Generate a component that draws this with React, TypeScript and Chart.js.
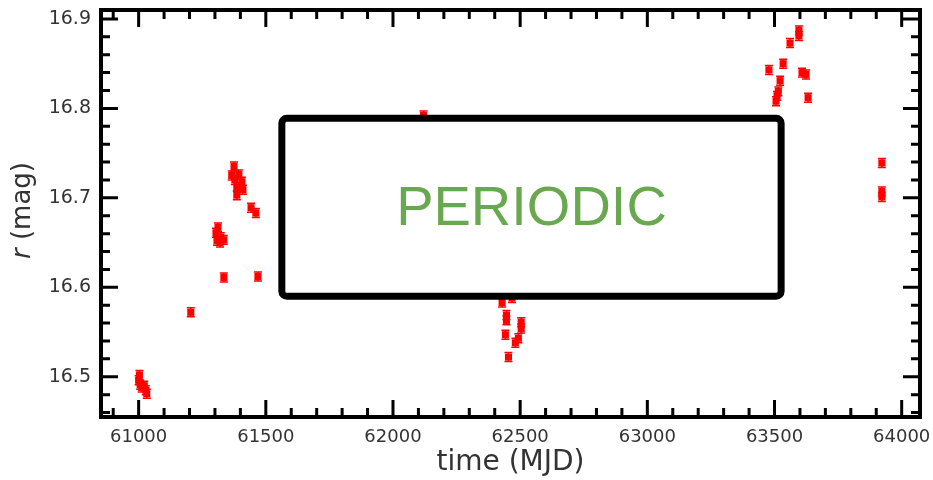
import React, { useEffect, useRef } from "react";
import { Chart, registerables } from "chart.js";

Chart.register(...registerables);

// Observation times (MJD)
const times = [
  61003, 61000, 61006, 61012, 61022, 61028, 61032,
  61205,
  61312, 61304, 61323, 61308, 61335, 61320,
  61335,
  61375, 61366, 61394, 61378, 61406, 61386, 61410, 61386,
  61442, 61461,
  61469,
  62120,
  62429, 62468, 62446, 62446, 62442, 62504, 62504, 62493, 62481, 62454,
  63596, 63596, 63561, 63534, 63478, 63608, 63624, 63522, 63515, 63510, 63506, 63632,
  63922, 63922, 63922,
];
// r-band magnitudes
const mags = [
  16.502, 16.496, 16.491, 16.488, 16.49, 16.485, 16.481,
  16.572,
  16.667, 16.661, 16.656, 16.652, 16.653, 16.65,
  16.611,
  16.735, 16.725, 16.726, 16.72, 16.718, 16.712, 16.709, 16.703,
  16.689, 16.683,
  16.612,
  16.792,
  16.583, 16.588, 16.569, 16.563, 16.547, 16.561, 16.554, 16.543, 16.538, 16.522,
  16.887, 16.881, 16.873, 16.85, 16.843, 16.84, 16.838, 16.831, 16.819, 16.814, 16.808, 16.812,
  16.739, 16.707, 16.701,
];
// magnitude errors
const magErr = [
  0.005, 0.005, 0.005, 0.005, 0.005, 0.005, 0.005,
  0.005,
  0.005, 0.005, 0.005, 0.005, 0.005, 0.005,
  0.005,
  0.005, 0.005, 0.005, 0.005, 0.005, 0.005, 0.005, 0.005,
  0.005, 0.005,
  0.005,
  0.005,
  0.005, 0.005, 0.005, 0.005, 0.005, 0.005, 0.005, 0.005, 0.005, 0.005,
  0.005, 0.005, 0.005, 0.005, 0.005, 0.005, 0.005, 0.005, 0.005, 0.005, 0.005, 0.005,
  0.005, 0.005, 0.005,
];

const xTickValues = [61000, 61500, 62000, 62500, 63000, 63500, 64000];
const yTickValues = [16.5, 16.6, 16.7, 16.8, 16.9];
const xRange = [60852, 64072];
const yRange = [16.455, 16.91];
const xMinorStep = 100;
const yMinorStep = 0.02;

// Overlay label box (data coordinates)
const boxLabel = "PERIODIC";
const boxX = [61563, 63526];
const boxY = [16.789, 16.59];

const FONT = "'DejaVu Sans', Verdana, sans-serif";
const TEXT_COLOR = "#333333";

function roundRectPath(ctx: CanvasRenderingContext2D, x: number, y: number, w: number, h: number, r: number) {
  ctx.beginPath();
  ctx.moveTo(x + r, y);
  ctx.lineTo(x + w - r, y);
  ctx.arcTo(x + w, y, x + w, y + r, r);
  ctx.lineTo(x + w, y + h - r);
  ctx.arcTo(x + w, y + h, x + w - r, y + h, r);
  ctx.lineTo(x + r, y + h);
  ctx.arcTo(x, y + h, x, y + h - r, r);
  ctx.lineTo(x, y + r);
  ctx.arcTo(x, y, x + r, y, r);
  ctx.closePath();
}

const decorPlugin = {
  id: "decor",
  beforeDatasetsDraw(chart: any) {
    const ctx = chart.ctx as CanvasRenderingContext2D;
    const xs = chart.scales.x;
    const ys = chart.scales.y;
    const area = chart.chartArea;
    ctx.save();
    ctx.beginPath();
    ctx.rect(area.left, area.top, area.right - area.left, area.bottom - area.top);
    ctx.clip();
    ctx.strokeStyle = "#ff0000";
    ctx.lineWidth = 1.5;
    times.forEach((t, i) => {
      const px = xs.getPixelForValue(t);
      const y1 = ys.getPixelForValue(mags[i] + magErr[i]);
      const y2 = ys.getPixelForValue(mags[i] - magErr[i]);
      ctx.beginPath();
      ctx.moveTo(px, y1);
      ctx.lineTo(px, y2);
      ctx.moveTo(px - 4, y1);
      ctx.lineTo(px + 4, y1);
      ctx.moveTo(px - 4, y2);
      ctx.lineTo(px + 4, y2);
      ctx.stroke();
    });
    ctx.restore();
  },
  afterDraw(chart: any) {
    const ctx = chart.ctx as CanvasRenderingContext2D;
    const xs = chart.scales.x;
    const ys = chart.scales.y;
    const { left, right, top, bottom } = chart.chartArea;
    ctx.save();

    // inward ticks on all sides
    ctx.strokeStyle = "#000";
    ctx.lineWidth = 3;
    const major = 17;
    const minor = 9;
    const xStart = Math.ceil(xRange[0] / xMinorStep) * xMinorStep;
    for (let v = xStart; v <= xRange[1]; v += xMinorStep) {
      const isMajor = xTickValues.includes(v);
      const len = isMajor ? major : minor;
      const px = xs.getPixelForValue(v);
      ctx.beginPath();
      ctx.moveTo(px, bottom);
      ctx.lineTo(px, bottom - len);
      ctx.moveTo(px, top);
      ctx.lineTo(px, top + len);
      ctx.stroke();
    }
    const yStartIdx = Math.ceil(yRange[0] / yMinorStep - 1e-6);
    for (let k = yStartIdx; k * yMinorStep <= yRange[1] + 1e-9; k++) {
      const v = k * yMinorStep;
      const isMajor = yTickValues.some((t) => Math.abs(t - v) < 1e-6);
      const len = isMajor ? major : minor;
      const py = ys.getPixelForValue(v);
      ctx.beginPath();
      ctx.moveTo(left, py);
      ctx.lineTo(left + len, py);
      ctx.moveTo(right, py);
      ctx.lineTo(right - len, py);
      ctx.stroke();
    }

    // frame
    ctx.lineWidth = 4;
    ctx.strokeRect(left, top, right - left, bottom - top);

    // overlay box
    const bx1 = xs.getPixelForValue(boxX[0]);
    const bx2 = xs.getPixelForValue(boxX[1]);
    const by1 = ys.getPixelForValue(boxY[0]);
    const by2 = ys.getPixelForValue(boxY[1]);
    roundRectPath(ctx, bx1, by1, bx2 - bx1, by2 - by1, 5);
    ctx.fillStyle = "#ffffff";
    ctx.fill();
    ctx.lineWidth = 7;
    ctx.strokeStyle = "#000";
    ctx.stroke();
    ctx.fillStyle = "#6aa84f";
    ctx.font = "56px 'Liberation Sans', Arial, sans-serif";
    ctx.textAlign = "center";
    ctx.textBaseline = "middle";
    ctx.fillText(boxLabel, (bx1 + bx2) / 2, (by1 + by2) / 2 + 2);

    // y-axis title with italic r
    ctx.translate(23, (top + bottom) / 2 - 3);
    ctx.rotate(-Math.PI / 2);
    ctx.fillStyle = TEXT_COLOR;
    ctx.textBaseline = "middle";
    ctx.textAlign = "left";
    const italicFont = `italic 26px ${FONT}`;
    const normalFont = `26px ${FONT}`;
    ctx.font = italicFont;
    const w1 = ctx.measureText("r").width;
    ctx.font = normalFont;
    const w2 = ctx.measureText(" (mag)").width;
    const start = -(w1 + w2) / 2;
    ctx.font = italicFont;
    ctx.fillText("r", start, 0);
    ctx.font = normalFont;
    ctx.fillText(" (mag)", start + w1, 0);

    ctx.restore();
  },
};

export default function App() {
  const canvasRef = useRef<HTMLCanvasElement | null>(null);

  useEffect(() => {
    document.body.style.margin = "0";
    const canvas = canvasRef.current;
    if (!canvas) return;
    const chart = new Chart(canvas, {
      type: "scatter",
      data: {
        datasets: [
          {
            label: "r",
            data: times.map((t, i) => ({ x: t, y: mags[i] })),
            backgroundColor: "#ff0000",
            borderWidth: 0,
            pointStyle: "rect",
            pointRadius: 5,
          },
        ],
      },
      options: {
        responsive: false,
        animation: false,
        devicePixelRatio: 1,
        layout: { padding: { top: 10, right: 13, left: 0, bottom: 0 } },
        plugins: {
          legend: { display: false },
          tooltip: { enabled: false },
        },
        scales: {
          x: {
            type: "linear",
            min: xRange[0],
            max: xRange[1],
            grid: { display: false, drawTicks: false },
            border: { display: false },
            afterBuildTicks: (scale: any) => {
              scale.ticks = xTickValues.map((v) => ({ value: v }));
            },
            afterFit: (scale: any) => {
              scale.height = 63;
              scale.paddingLeft = 0;
              scale.paddingRight = 0;
              scale.paddingTop = 0;
              scale.paddingBottom = 0;
            },
            ticks: {
              padding: 10,
              color: TEXT_COLOR,
              font: { family: FONT, size: 18 },
              maxRotation: 0,
              callback: (v: any) => String(v),
            },
            title: {
              display: true,
              text: "time (MJD)",
              color: TEXT_COLOR,
              font: { family: FONT, size: 28 },
              padding: { top: 0, bottom: 0 },
            },
          },
          y: {
            type: "linear",
            min: yRange[0],
            max: yRange[1],
            grid: { display: false, drawTicks: false },
            border: { display: false },
            afterBuildTicks: (scale: any) => {
              scale.ticks = yTickValues.map((v) => ({ value: v }));
            },
            afterFit: (scale: any) => {
              scale.width = 101;
              scale.paddingLeft = 0;
              scale.paddingRight = 0;
              scale.paddingTop = 0;
              scale.paddingBottom = 0;
            },
            ticks: {
              padding: 10,
              color: TEXT_COLOR,
              font: { family: FONT, size: 19 },
              callback: (v: any) => Number(v).toFixed(1),
            },
          },
        },
      },
      plugins: [decorPlugin],
    });
    return () => chart.destroy();
  }, []);

  return (
    <div style={{ width: 933, height: 480 }}>
      <canvas ref={canvasRef} width={933} height={480} />
    </div>
  );
}
